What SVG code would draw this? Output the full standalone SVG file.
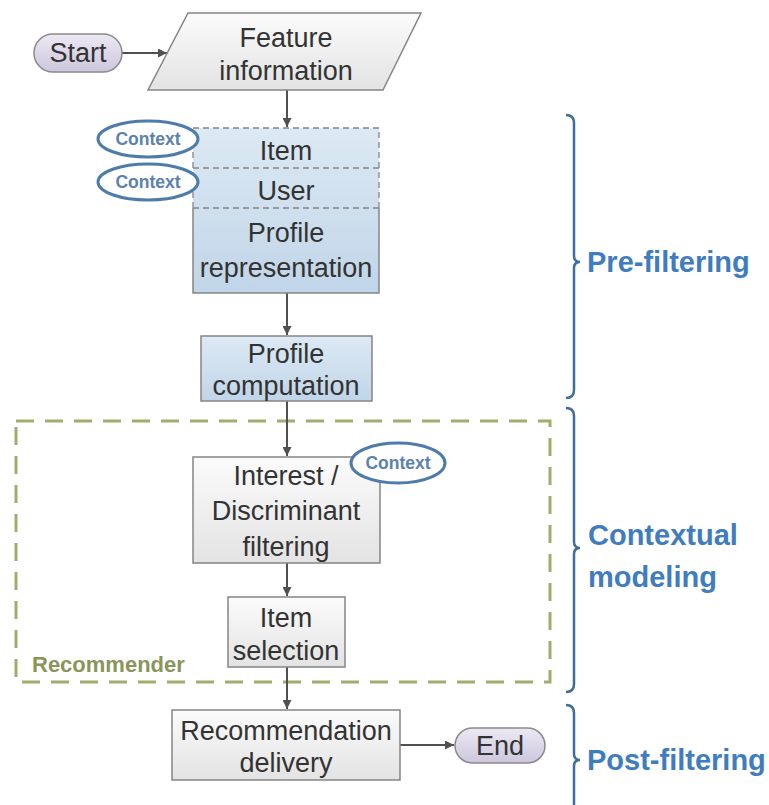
<svg xmlns="http://www.w3.org/2000/svg" width="769" height="805" viewBox="0 0 769 805">
<defs>
<linearGradient id="gBlue" x1="0" y1="0" x2="0" y2="1"><stop offset="0" stop-color="#dde9f4"/><stop offset="1" stop-color="#c0d5e8"/></linearGradient>
<linearGradient id="gGray" x1="0" y1="0" x2="0" y2="1"><stop offset="0" stop-color="#fbfbfb"/><stop offset="1" stop-color="#e3e3e3"/></linearGradient>
<linearGradient id="gPill" x1="0" y1="0" x2="0" y2="1"><stop offset="0" stop-color="#ece9f3"/><stop offset="1" stop-color="#cdc6dd"/></linearGradient>
<marker id="arr" viewBox="0 0 10 10" refX="10" refY="5" markerWidth="9" markerHeight="9" markerUnits="userSpaceOnUse" orient="auto"><path d="M0,0 L10,5 L0,10 z" fill="#505050"/></marker>
<style>
.t{font-family:"Liberation Sans",Arial,sans-serif;font-size:27px;fill:#333;text-anchor:middle}
.box{stroke:#858585;stroke-width:1.5}
.ctx{fill:#fff;stroke:#4d7cab;stroke-width:3}
.ctxt{font-family:"Liberation Sans",Arial,sans-serif;font-size:17.5px;font-weight:bold;fill:#5a82ad;text-anchor:middle}
.lab{font-family:"Liberation Sans",Arial,sans-serif;font-size:29px;font-weight:bold;fill:#3f7dbf}
.brace{fill:none;stroke:#3f6e9e;stroke-width:2.5}
.conn{stroke:#505050;stroke-width:2;fill:none}
</style>
</defs>
<rect width="769" height="805" fill="#fff"/>

<g id="recommender">
<rect x="16" y="421" width="534" height="261" fill="none" stroke="#a3ac6e" stroke-width="3" stroke-dasharray="18 11"/>
<text x="32" y="672" font-family="'Liberation Sans',Arial,sans-serif" font-size="22" font-weight="bold" fill="#8a955a">Recommender</text>
</g>

<g id="connectors">
<line class="conn" x1="122" y1="53" x2="167" y2="53" marker-end="url(#arr)"/>
<line class="conn" x1="287" y1="90" x2="287" y2="127" marker-end="url(#arr)"/>
<line class="conn" x1="287" y1="293" x2="287" y2="335" marker-end="url(#arr)"/>
<line class="conn" x1="287" y1="401" x2="287" y2="456" marker-end="url(#arr)"/>
<line class="conn" x1="287" y1="563" x2="287" y2="596" marker-end="url(#arr)"/>
<line class="conn" x1="287" y1="667" x2="287" y2="709" marker-end="url(#arr)"/>
<line class="conn" x1="400" y1="745" x2="454" y2="745" marker-end="url(#arr)"/>
</g>

<g id="start">
<rect x="34" y="34" width="88" height="38" rx="19" fill="url(#gPill)" stroke="#8a8a8a" stroke-width="1.5"/>
<text class="t" x="78" y="62">Start</text>
</g>

<g id="feature">
<polygon points="188,13 421,13 383,90 148,90" fill="url(#gGray)" class="box"/>
<text class="t" x="286" y="47">Feature</text>
<text class="t" x="286" y="80">information</text>
</g>

<g id="profile-representation">
<rect x="193" y="128" width="186" height="165" fill="url(#gBlue)" stroke="none"/>
<path d="M193,208 L193,293 L379,293 L379,208" fill="none" class="box"/>
<path d="M193,208 L193,128 L379,128 L379,208 M193,168 L379,168 M193,208 L379,208" fill="none" stroke="#858585" stroke-width="1.3" stroke-dasharray="6 4"/>
<text class="t" x="286" y="160">Item</text>
<text class="t" x="286" y="200">User</text>
<text class="t" x="286" y="242">Profile</text>
<text class="t" x="286" y="277">representation</text>
</g>

<g id="context-item">
<ellipse class="ctx" cx="148" cy="139" rx="50" ry="18"/>
<text class="ctxt" x="148" y="145">Context</text>
</g>
<g id="context-user">
<ellipse class="ctx" cx="148" cy="182" rx="50" ry="18"/>
<text class="ctxt" x="148" y="188">Context</text>
</g>

<g id="profile-computation">
<rect x="201" y="336" width="171" height="65" fill="url(#gBlue)" class="box"/>
<text class="t" x="286" y="363">Profile</text>
<text class="t" x="286" y="395">computation</text>
</g>

<g id="interest-filtering">
<rect x="193" y="457" width="187" height="106" fill="url(#gGray)" class="box"/>
<text class="t" x="286" y="485">Interest /</text>
<text class="t" x="286" y="520">Discriminant</text>
<text class="t" x="286" y="556">filtering</text>
</g>
<g id="context-interest">
<ellipse class="ctx" cx="398" cy="463" rx="47" ry="20"/>
<text class="ctxt" x="398" y="469">Context</text>
</g>

<g id="item-selection">
<rect x="228" y="597" width="117" height="70" fill="url(#gGray)" class="box"/>
<text class="t" x="286" y="627">Item</text>
<text class="t" x="286" y="660">selection</text>
</g>

<g id="recommendation-delivery">
<rect x="172" y="710" width="228" height="70" fill="url(#gGray)" class="box"/>
<text class="t" x="286" y="740">Recommendation</text>
<text class="t" x="286" y="772">delivery</text>
</g>

<g id="end">
<rect x="455" y="728" width="90" height="35" rx="17.5" fill="url(#gPill)" stroke="#8a8a8a" stroke-width="1.5"/>
<text class="t" x="500" y="755">End</text>
</g>

<g id="pre-filtering">
<path class="brace" d="M566,115 Q574,115 574,123 L574,256 Q574,262 580,262 Q574,262 574,268 L574,390 Q574,398 566,398"/>
<text class="lab" x="587" y="272">Pre-filtering</text>
</g>
<g id="contextual-modeling">
<path class="brace" d="M566,408 Q574,408 574,416 L574,542 Q574,548 580,548 Q574,548 574,554 L574,684 Q574,692 566,692"/>
<text class="lab" x="588" y="545">Contextual</text>
<text class="lab" x="588" y="587">modeling</text>
</g>
<g id="post-filtering">
<path class="brace" d="M566,705 Q574,705 574,713 L574,754 Q574,760 580,760 Q574,760 574,766 L574,805"/>
<text class="lab" x="587" y="770">Post-filtering</text>
</g>
</svg>
